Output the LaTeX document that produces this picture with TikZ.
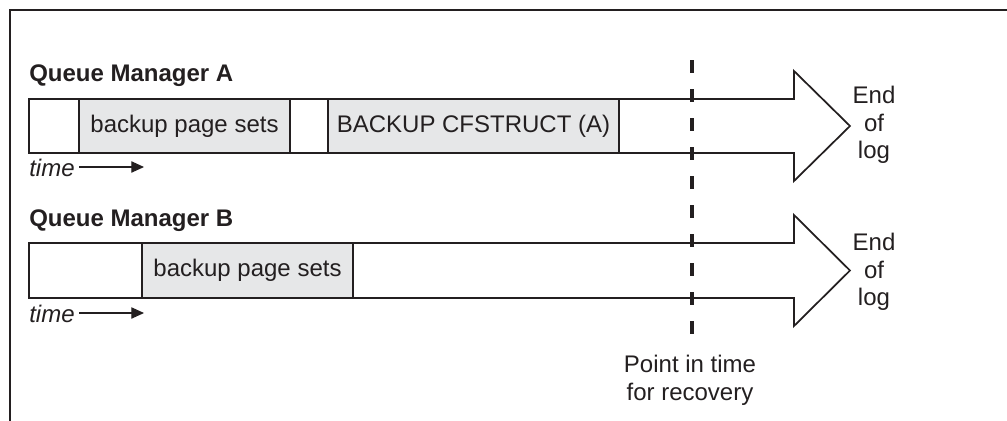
\documentclass[tikz,border=0pt]{standalone}
\usepackage{fontspec}
\setmainfont{Liberation Sans}
\usetikzlibrary{arrows.meta}
\definecolor{ink}{HTML}{231F20}
\definecolor{shade}{HTML}{E6E7E8}
\tikzset{
  frameline/.style={draw=ink, line width=1.5pt},
  logarrow/.style={draw=ink, line width=1.3pt, fill=white, line join=miter},
  seg/.style={draw=ink, line width=1.3pt, inner sep=0pt, text=ink},
  grayseg/.style={seg, fill=shade},
  whiteseg/.style={seg, fill=white},
  title/.style={font=\fontsize{18}{21}\selectfont\bfseries, text=ink, inner sep=0pt, anchor=base west},
  timelabel/.style={font=\fontsize{18}{21}\selectfont\itshape, text=ink, inner sep=0pt, anchor=base west},
  timearrow/.style={draw=ink, line width=0.8pt, -{Triangle[length=9.5pt,width=8.5pt]}},
  endlabel/.style={align=center, font=\fontsize{18}{20.6}\selectfont, text=ink, inner sep=0pt},
  recline/.style={draw=ink, line width=2.8pt, dash pattern=on 9.75pt off 12pt},
}
\begin{document}
\begin{tikzpicture}[x=0.75pt,y=-0.75pt, font=\fontsize{18}{21}\selectfont]
\useasboundingbox (0,0) rectangle (1007,421);
% frame
\coordinate (fc) at (10,10);
\coordinate (fr) at (1007,10);
\coordinate (fb) at (10,421);
\draw[frameline] (fr) -- (fc) -- (fb);

% Queue manager A
\node[title] (qa) at (29,81) {Queue Manager A};
\coordinate (a0) at (29,99);
\draw[logarrow] (a0) -- (794,99) -- (794,71) -- (850,126) -- (794,181) -- (794,153) -- (29,153) -- cycle;
\node[whiteseg, minimum width=37.5pt, minimum height=40.5pt] (a1) at (54,126) {};
\node[grayseg, minimum width=158.25pt, minimum height=40.5pt] (a2) at (184.5,126) {backup page sets};
\node[whiteseg, minimum width=28.5pt, minimum height=40.5pt] (a3) at (309,126) {};
\node[grayseg, minimum width=218.25pt, minimum height=40.5pt] (a4) at (473.5,126) {BACKUP CFSTRUCT (A)};
\node[endlabel] (ea) at (874,125) {End\\of\\log};
\node[timelabel] (ta) at (29,176) {time};
\coordinate (tas) at (79,167);
\coordinate (tae) at (144,167);
\draw[timearrow] (tas) -- (tae);

% Queue manager B
\node[title] (qb) at (29,226) {Queue Manager B};
\draw[logarrow] (29,243) -- (794,243) -- (794,215) -- (850,270.5) -- (794,326) -- (794,298) -- (29,298) -- cycle;
\node[whiteseg, minimum width=84.75pt, minimum height=41.25pt] (b1) at (85.5,270.5) {};
\node[grayseg, minimum width=158.25pt, minimum height=41.25pt] (b2) at (247.5,270.5) {backup page sets};
\node[endlabel] (eb) at (874,272) {End\\of\\log};
\node[timelabel] (tb) at (29,322) {time};
\coordinate (tbs) at (79,313);
\coordinate (tbe) at (144,313);
\draw[timearrow] (tbs) -- (tbe);

% point in time for recovery
\coordinate (dtop) at (692,60);
\coordinate (dbot) at (692,344);
\draw[recline] (dtop) -- (dbot);
\node[endlabel, text depth=0pt] (pt) at (690,378) {Point in time\\for recovery};
\end{tikzpicture}
\end{document}
